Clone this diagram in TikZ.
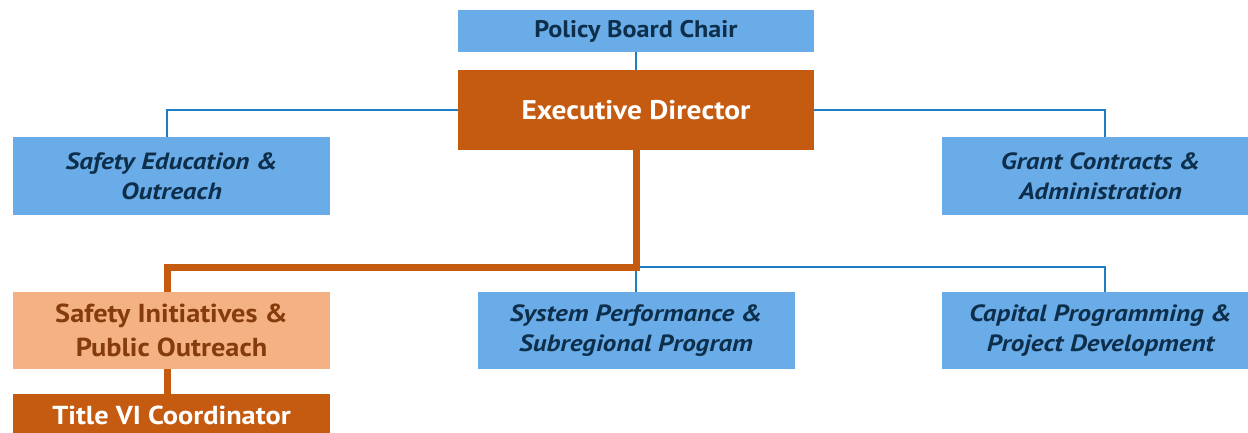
\documentclass[tikz,border=0pt]{standalone}
\usepackage{fontspec}
\setmainfont{PT Sans}[BoldFeatures={FakeStretch=1.09},
  BoldItalicFeatures={FakeStretch=1.15}]

\definecolor{boxblue}{HTML}{6AACE8}
\definecolor{navytext}{HTML}{0E2F4B}
\definecolor{rust}{HTML}{C55A11}
\definecolor{peach}{HTML}{F4B183}
\definecolor{rusttext}{HTML}{843C0C}
\definecolor{linkblue}{HTML}{1F7DC1}

\tikzset{
  box/.style={rectangle, inner sep=0pt, align=center},
  chairbox/.style={box, fill=boxblue, text=navytext, minimum width=356pt,
    minimum height=42pt, font=\bfseries\fontsize{24}{28}\selectfont},
  leadbox/.style={box, fill=rust, text=white, minimum width=356pt,
    minimum height=80pt, font=\bfseries\fontsize{27}{32}\selectfont},
  unitbox/.style={box, fill=boxblue, text=navytext, minimum width=317pt,
    minimum height=77pt, font=\bfseries\itshape\fontsize{23.5}{30}\selectfont},
  outreachbox/.style={box, fill=peach, text=rusttext, minimum width=317pt,
    minimum height=77pt, font=\bfseries\fontsize{26}{34}\selectfont},
  titlebox/.style={box, fill=rust, text=white, minimum width=317pt,
    minimum height=42pt, font=\bfseries\fontsize{26}{30}\selectfont},
  bluelink/.style={draw=linkblue, line width=2pt},
  orangelink/.style={draw=rust, line width=7pt}
}

\begin{document}
\begin{tikzpicture}[x=1pt,y=-1pt]

\path[use as bounding box, clip] (0,0) rectangle (1248,433);

\node[chairbox] (chair) at (636,31) {Policy Board Chair};

\node[leadbox] (ed) at (636,110) {Executive Director};

\node[unitbox] (edu) at (171.5,176) {Safety Education \&\\Outreach};

\node[unitbox] (grant) at (1100.5,176) {Grant Contracts \&\\Administration};

\node[outreachbox] (init) at (171.5,330.5) {Safety Initiatives \&\\Public Outreach};

\node[unitbox] (sys) at (636,330.5) {System Performance \&\\Subregional Program};

\node[unitbox] (cap) at (1100.5,330.5) {Capital Programming \&\\Project Development};

\node[titlebox] (titlesix) at (171.5,415) {Title VI Coordinator};

\coordinate (bus) at (636,267);

\draw[bluelink] (chair) -- (ed);

\draw[bluelink] (ed.west) -| ([xshift=-4.5pt]edu.north);

\draw[bluelink] (ed.east) -| ([xshift=4.5pt]grant.north);

\draw[bluelink] (bus) -| ([xshift=4.5pt]cap.north);

\draw[bluelink] (bus) -- (sys.north);

\draw[orangelink] (ed.south) -- (bus) -| ([xshift=-4.5pt]init.north);

\draw[orangelink] ([xshift=-4.5pt]init.south) -- ([xshift=-4.5pt]titlesix.north);

\end{tikzpicture}
\end{document}
